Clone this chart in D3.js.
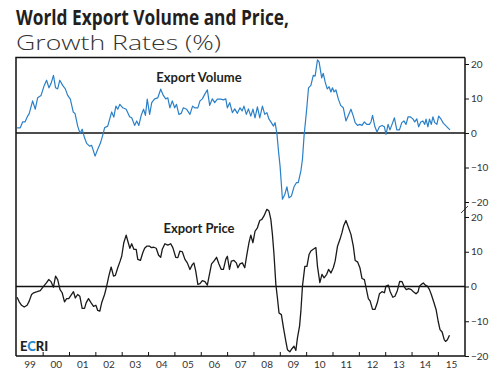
<!DOCTYPE html>
<html>
<head>
<meta charset="utf-8">
<script src="https://cdn.jsdelivr.net/npm/d3@7"></script>
<style>
  body { margin: 0; background: #fff; }
  text { font-family: Lato, "Open Sans", sans-serif; }
</style>
</head>
<body>
<div id="wrapper"></div>
<script>
// export volume, yoy growth (%)
const volDates = [1999.03,1999.15,1999.24,1999.33,1999.43,1999.49,1999.62,1999.72,1999.81,1999.94,
  2000.06,2000.15,2000.24,2000.32,2000.41,2000.49,2000.57,2000.65,2000.76,2000.86,2000.95,
  2001.05,2001.16,2001.23,2001.33,2001.42,2001.50,2001.59,2001.67,2001.78,2001.86,2001.99,
  2002.09,2002.19,2002.30,2002.35,2002.47,2002.62,2002.70,2002.78,2002.85,2002.93,
  2003.04,2003.17,2003.30,2003.38,2003.49,2003.57,2003.65,2003.74,2003.83,2003.90,2003.97,
  2004.06,2004.14,2004.25,2004.37,2004.48,2004.58,2004.67,2004.75,2004.83,2004.92,
  2005.01,2005.08,2005.17,2005.26,2005.34,2005.46,2005.59,2005.69,2005.77,2005.89,2005.97,
  2006.06,2006.15,2006.25,2006.34,2006.44,2006.53,2006.63,2006.76,2006.86,2006.95,
  2007.01,2007.10,2007.20,2007.29,2007.39,2007.49,2007.57,2007.64,2007.73,2007.81,2007.90,2007.98,
  2008.06,2008.15,2008.24,2008.34,2008.43,2008.51,2008.59,2008.68,2008.76,2008.82,2008.89,2008.95,
  2009.01,2009.10,2009.19,2009.27,2009.35,2009.44,2009.54,2009.63,2009.70,2009.80,2009.86,2009.92,
  2010.02,2010.09,2010.18,2010.27,2010.34,2010.43,2010.49,2010.59,2010.65,2010.72,2010.80,2010.87,2010.94,
  2011.00,2011.06,2011.13,2011.22,2011.31,2011.41,2011.51,2011.60,2011.70,2011.79,2011.86,2011.95,
  2012.04,2012.12,2012.21,2012.30,2012.40,2012.46,2012.52,2012.61,2012.69,2012.78,2012.88,2012.97,
  2013.03,2013.11,2013.18,2013.26,2013.35,2013.44,2013.54,2013.63,2013.71,2013.79,2013.87,2013.95,
  2014.05,2014.12,2014.20,2014.27,2014.35,2014.43,2014.50,2014.55,2014.62,2014.68,2014.75,2014.81,2014.88,2014.96,
  2015.03,2015.12,2015.21,2015.29,2015.38,2015.46]
const volValues = [1.5,1.5,3.2,3.2,4.9,5.6,9.3,6.9,10.2,10.9,
  13.8,15.3,13.1,14.4,16.7,13.1,12.8,15.3,13.8,12.8,10.9,
  9.8,6.1,5.6,2.0,-0.1,1.1,-1.4,-3.0,-3.8,-3.6,-6.7,
  -4.7,-3.0,-0.1,1.5,2.0,6.1,4.6,7.8,6.9,8.3,
  7.3,6.9,4.7,4.4,2.2,3.5,2.2,5.1,6.9,5.1,9.8,
  5.4,8.8,9.9,10.2,12.7,10.9,9.9,10.2,7.3,9.3,
  7.3,8.3,5.4,5.7,7.3,6.9,5.4,7.8,7.3,7.3,9.3,
  9.9,11.2,12.5,8.0,9.9,8.8,9.8,9.8,9.6,9.9,
  7.3,8.8,5.9,7.0,5.7,7.3,6.4,7.8,5.4,7.0,4.9,6.9,
  4.4,7.6,4.4,7.8,5.4,5.9,4.0,3.0,2.0,3.0,-0.1,-5.2,
  -9.6,-19.2,-17.8,-15.6,-18.8,-18.3,-15.6,-14.4,-14.4,-11.0,-7.6,-0.9,
  6.9,13.1,13.8,16.7,16.5,21.2,20.6,16.0,17.3,14.8,12.8,13.4,11.9,
  13.1,11.9,12.5,9.9,8.0,7.3,3.5,5.1,6.9,4.9,3.0,2.2,
  2.5,2.2,3.2,2.5,2.5,3.2,5.1,1.8,0.3,1.8,2.2,1.8,
  -0.4,2.5,0.9,2.5,4.4,0.9,0.9,3.0,3.5,2.5,4.7,4.7,
  4.1,3.2,4.1,1.8,3.2,3.5,2.5,4.0,1.8,4.0,2.5,4.7,3.0,2.5,
  4.9,4.0,2.8,2.2,1.5,0.9]

// export price, yoy growth (%)
const priceDates = [1999.03,1999.11,1999.20,1999.30,1999.41,1999.49,1999.58,1999.66,1999.79,1999.91,
  2000.04,2000.15,2000.23,2000.32,2000.41,2000.49,2000.57,2000.66,2000.74,2000.83,2000.91,2000.99,
  2001.08,2001.17,2001.24,2001.33,2001.41,2001.50,2001.59,2001.65,2001.74,2001.84,2001.93,
  2002.02,2002.09,2002.17,2002.24,2002.35,2002.43,2002.51,2002.60,2002.69,2002.76,2002.85,2002.94,
  2003.00,2003.08,2003.17,2003.23,2003.31,2003.38,2003.46,2003.55,2003.61,2003.71,2003.80,2003.87,2003.95,
  2004.06,2004.12,2004.22,2004.31,2004.40,2004.48,2004.54,2004.64,2004.75,2004.86,2004.94,
  2005.05,2005.13,2005.21,2005.30,2005.40,2005.49,2005.59,2005.68,2005.74,2005.81,2005.89,2005.97,
  2006.06,2006.16,2006.25,2006.33,2006.41,2006.50,2006.60,2006.69,2006.78,2006.86,2006.95,
  2007.01,2007.09,2007.16,2007.26,2007.35,2007.41,2007.49,2007.58,2007.67,2007.75,2007.83,2007.90,2007.98,
  2008.06,2008.15,2008.24,2008.32,2008.40,2008.51,2008.59,2008.66,2008.72,2008.78,2008.85,2008.91,2008.97,
  2009.06,2009.14,2009.23,2009.29,2009.38,2009.46,2009.54,2009.61,2009.67,2009.75,2009.80,2009.86,2009.95,
  2010.03,2010.11,2010.18,2010.27,2010.37,2010.43,2010.52,2010.60,2010.68,2010.78,2010.85,2010.94,
  2011.03,2011.10,2011.19,2011.28,2011.36,2011.42,2011.51,2011.60,2011.70,2011.79,2011.86,2011.95,
  2012.04,2012.12,2012.21,2012.27,2012.36,2012.43,2012.52,2012.61,2012.70,2012.78,2012.88,2012.97,
  2013.03,2013.12,2013.19,2013.29,2013.37,2013.46,2013.55,2013.64,2013.73,2013.80,2013.89,2013.99,
  2014.07,2014.17,2014.25,2014.30,2014.37,2014.45,2014.52,2014.60,2014.68,2014.75,2014.84,2014.93,
  2015.01,2015.08,2015.16,2015.24,2015.29,2015.36,2015.44]
const priceValues = [-3.1,-4.4,-5.4,-5.9,-5.4,-4.2,-2.3,-1.8,-1.5,-1.2,
  0.1,1.1,2.0,1.4,-0.2,3.0,2.0,-0.9,-1.8,-4.4,-3.5,-3.5,
  -2.5,-1.5,-3.3,-2.3,-2.8,-6.3,-6.3,-4.7,-3.5,-4.7,-5.7,
  -5.4,-6.9,-7.1,-4.7,-2.3,0.1,3.0,5.6,3.0,3.2,5.4,7.3,
  8.7,12.6,14.8,13.1,11.0,12.3,10.7,10.7,7.8,7.5,9.7,11.0,11.6,
  11.6,11.2,11.3,11.0,9.0,8.4,10.7,12.3,11.9,12.3,11.2,
  8.4,8.3,10.2,10.0,7.8,6.8,4.9,6.3,6.8,4.4,0.6,0.8,
  1.7,1.4,0.4,3.5,6.5,7.3,8.4,6.5,4.9,4.9,7.8,
  8.7,4.9,7.3,7.5,6.8,5.4,6.5,6.8,5.4,9.2,12.6,14.8,12.6,
  15.9,16.9,19.0,19.3,20.3,22.2,21.7,19.3,15.0,9.2,0.6,-3.3,-7.6,
  -8.1,-11.9,-15.8,-18.2,-18.8,-17.9,-17.2,-18.4,-14.8,-11.4,-7.1,0.1,5.8,
  5.8,9.2,10.2,10.7,11.2,5.8,1.1,3.5,2.5,3.5,4.9,3.9,
  5.4,7.3,11.6,13.5,15.5,17.4,19.0,17.1,15.0,11.6,7.5,7.1,
  5.4,2.3,2.0,-0.2,-3.5,-4.2,-6.6,-6.6,-4.7,-2.1,-1.5,-1.8,
  0.1,0.4,-1.5,-3.1,-2.8,-1.2,1.5,1.4,-0.2,-0.9,-0.6,-0.9,
  -1.5,-2.1,-1.5,0.1,0.6,1.0,0.4,0.1,-0.9,-2.3,-4.4,-6.6,
  -10.0,-12.4,-13.1,-15.3,-15.8,-15.3,-14.0]

const years = d3.range(1999, 2016)
const yTicks = [-20, -10, 0, 10, 20]

const volData = volDates.map((d, i) => ({date: d, value: volValues[i]}))
const priceData = priceDates.map((d, i) => ({date: d, value: priceValues[i]}))

const width = 495
const height = 375
const frame = {left: 16, right: 465, top: 57.5, bottom: 356}

const svg = d3.select("#wrapper")
  .append("svg")
    .attr("width", width)
    .attr("height", height)

// title (two lines, bold + light)
svg.append("text")
  .attr("x", 16).attr("y", 24.5)
  .attr("font-size", 21).attr("font-weight", 700)
  .style("font-family", "'Open Sans', sans-serif")
  .attr("fill", "#231f20")
  .attr("textLength", 273).attr("lengthAdjust", "spacingAndGlyphs")
  .text("World Export Volume and Price,")
svg.append("text")
  .attr("x", 16).attr("y", 50)
  .attr("font-size", 21).attr("font-weight", 300)
  .style("font-family", "'Open Sans', sans-serif")
  .attr("fill", "#333")
  .attr("textLength", 205).attr("lengthAdjust", "spacingAndGlyphs")
  .text("Growth Rates (%)")

// scales
const xScale = d3.scaleLinear()
  .domain([1999, 2015])
  .range([16.3, 437.9])

const yTop = d3.scaleLinear().domain([-20, 20]).range([202, 64])
const yBot = d3.scaleLinear().domain([-20, 20]).range([356, 217])

// frame
svg.append("path")
  .attr("d", `M${frame.left},${frame.bottom}V${frame.top}H${frame.right}`)
  .attr("fill", "none").attr("stroke", "#111").attr("stroke-width", 1.5)

// zero lines
;[yTop, yBot].forEach(s => {
  svg.append("line")
    .attr("x1", frame.left).attr("x2", frame.right)
    .attr("y1", s(0)).attr("y2", s(0))
    .attr("stroke", "#111").attr("stroke-width", 1.3)
})

// lines
const lineTop = d3.line().x(d => xScale(d.date)).y(d => yTop(d.value))
const lineBot = d3.line().x(d => xScale(d.date)).y(d => yBot(d.value))

svg.append("path")
  .attr("d", lineTop(volData))
  .attr("fill", "none").attr("stroke", "#2a80c8").attr("stroke-width", 1.2)
  .attr("stroke-linejoin", "round")

svg.append("path")
  .attr("d", lineBot(priceData))
  .attr("fill", "none").attr("stroke", "#1a1a1a").attr("stroke-width", 1.3)
  .attr("stroke-linejoin", "round")

// right axes
function styleAxis(g) {
  g.select(".domain").remove()
  g.selectAll(".tick line").attr("stroke", "#111")
  g.selectAll(".tick text")
    .attr("font-size", 10).attr("fill", "#333")
    .style("font-family", "Lato, sans-serif")
}

svg.append("g")
  .attr("transform", `translate(${frame.right},0)`)
  .call(d3.axisRight(yTop).tickValues(yTicks).tickSize(4).tickPadding(2))
  .call(styleAxis)

svg.append("g")
  .attr("transform", `translate(${frame.right},0)`)
  .call(d3.axisRight(yBot).tickValues(yTicks).tickSize(4).tickPadding(2))
  .call(styleAxis)

svg.append("line")
  .attr("x1", frame.right).attr("x2", frame.right)
  .attr("y1", frame.top).attr("y2", frame.bottom)
  .attr("stroke", "#111").attr("stroke-width", 1.5)

// break mark on the right axis
svg.append("line")
  .attr("x1", frame.right - 4).attr("y1", 213)
  .attr("x2", frame.right + 3).attr("y2", 206)
  .attr("stroke", "#111").attr("stroke-width", 0.8)

// x axis: ticks at year starts (inside), labels mid-year
svg.append("g")
  .attr("transform", `translate(0,${frame.bottom})`)
  .call(d3.axisBottom(xScale).tickValues(years.slice(1)).tickSize(-4).tickFormat(""))
  .call(g => g.select(".domain").remove())
  .call(g => g.selectAll(".tick line").attr("stroke", "#111"))

svg.append("g")
  .attr("transform", `translate(0,${frame.bottom})`)
  .call(d3.axisBottom(xScale).tickValues(years.map(y => y + 0.5)).tickSize(0).tickPadding(5)
    .tickFormat(d => d3.format("02")(Math.floor(d) % 100)))
  .call(styleAxis)

svg.append("line")
  .attr("x1", frame.left).attr("x2", frame.right)
  .attr("y1", frame.bottom).attr("y2", frame.bottom)
  .attr("stroke", "#111").attr("stroke-width", 1.5)

// series labels
svg.append("text")
  .attr("x", 199).attr("y", 82)
  .attr("text-anchor", "middle")
  .attr("font-size", 13).attr("font-weight", 700)
  .attr("fill", "#231f20")
  .text("Export Volume")

svg.append("text")
  .attr("x", 199).attr("y", 233)
  .attr("text-anchor", "middle")
  .attr("font-size", 13).attr("font-weight", 700)
  .attr("fill", "#231f20")
  .text("Export Price")

// logo
const logo = svg.append("text")
  .attr("x", 20).attr("y", 351)
  .attr("font-size", 13).attr("font-weight", 900)
  .attr("fill", "#231f20")
logo.append("tspan").text("E")
logo.append("tspan").attr("fill", "#1e88d0").text("C")
logo.append("tspan").text("RI")
</script>
</body>
</html>
